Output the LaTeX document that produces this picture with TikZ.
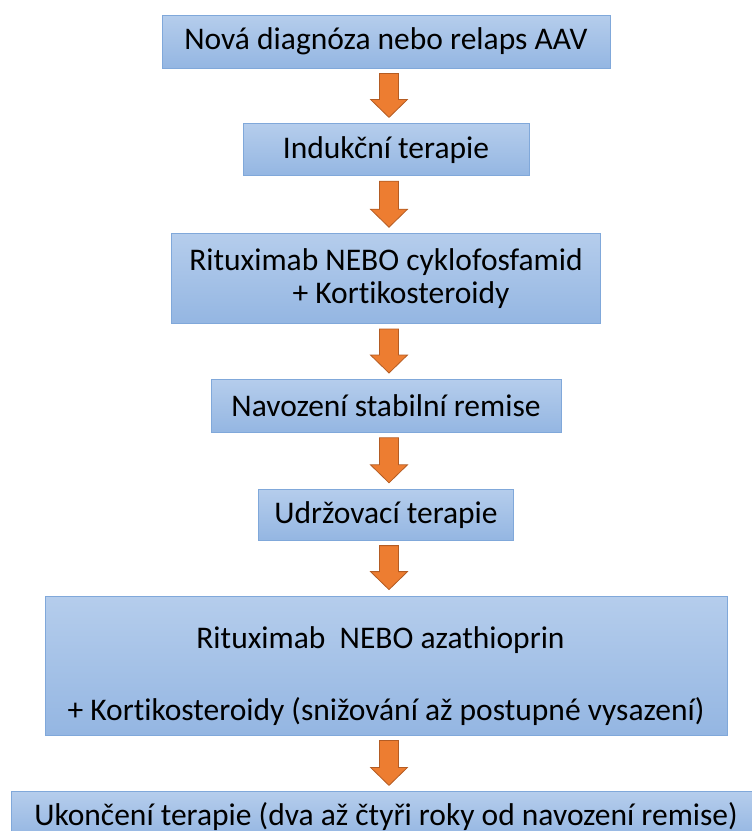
\documentclass[tikz,border=0pt]{standalone}
\usepackage{fontspec}
\setmainfont{Carlito}[Ligatures=NoCommon]
\usetikzlibrary{calc}
\usetikzlibrary{positioning}
\definecolor{boxtop}{RGB}{181,205,236}
\definecolor{boxbot}{RGB}{148,182,226}
\definecolor{boxline}{RGB}{128,168,218}
\definecolor{arrfill}{RGB}{237,125,49}
\definecolor{arrline}{RGB}{180,92,35}

\begin{document}
\begin{tikzpicture}[x=1pt,y=1pt,
    krok/.style={draw=boxline,line width=0.8pt,top color=boxtop,bottom color=boxbot,
        inner sep=0pt,align=center,font=\fontsize{31.5}{38}\selectfont},
    sipka/.style={fill=arrfill,draw=arrline,line width=0.8pt,
        to path={($(\tikztostart.south)+(-6.5pt,-5pt)$) -- ($(\tikztostart.south)+(12.5pt,-5pt)$)
            -- ($(\tikztotarget.north)+(12.5pt,24pt)$) -- ($(\tikztotarget.north)+(21.5pt,24pt)$)
            -- ($(\tikztotarget.north)+(3pt,6pt)$) -- ($(\tikztotarget.north)+(-15.5pt,24pt)$)
            -- ($(\tikztotarget.north)+(-6.5pt,24pt)$) -- cycle}}]
\useasboundingbox (0,0) rectangle (752,-831);
\node[krok,minimum width=448pt,minimum height=53pt] (diag) at (386,-41.5) {Nová diagnóza nebo relaps AAV};
\node[krok,minimum width=286pt,minimum height=52pt,below=55pt of diag] (indukce) {Indukční terapie};
\node[krok,minimum width=429pt,minimum height=90pt,below=57pt of indukce] (ritcyk)
    {Rituximab NEBO cyklofosfamid\\[-5pt]\hspace*{30pt}+ Kortikosteroidy};
\node[krok,minimum width=350pt,minimum height=53pt,below=55pt of ritcyk] (remise) {Navození stabilní remise};
\node[krok,minimum width=255pt,minimum height=51pt,below=56pt of remise] (udrz) {Udržovací terapie};
\node[krok,minimum width=682pt,minimum height=139pt,below=55pt of udrz] (ritaza)
    {\rule{0pt}{43pt}Rituximab~ NEBO azathioprin\hspace*{11pt}\\[34pt]+ Kortikosteroidy (snižování až postupné vysazení)};
\node[krok,minimum width=749pt,minimum height=46pt,text height=27pt,text depth=5pt,below=56pt of ritaza] (konec)
    {Ukončení terapie (dva až čtyři roky od navození remise)};
\draw[sipka] (diag) to (indukce);
\draw[sipka] (indukce) to (ritcyk);
\draw[sipka] (ritcyk) to (remise);
\draw[sipka] (remise) to (udrz);
\draw[sipka] (udrz) to (ritaza);
\draw[sipka] (ritaza) to (konec);
\end{tikzpicture}
\end{document}
